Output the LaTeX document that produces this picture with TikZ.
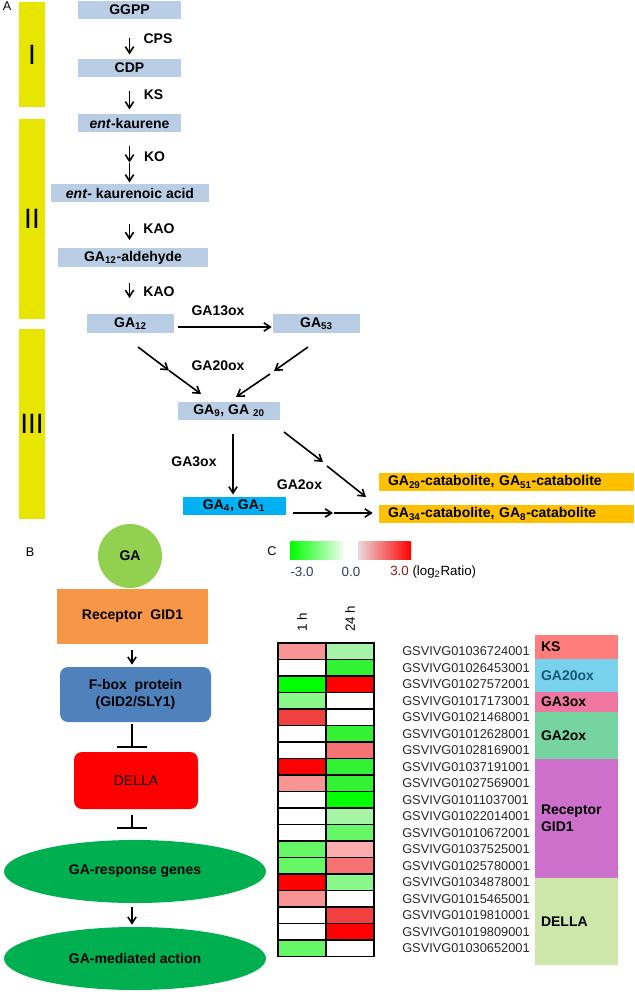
\documentclass[tikz,border=0pt]{standalone}
\usepackage{fontspec}
\setmainfont{Liberation Sans}
\usetikzlibrary{shapes.geometric,arrows.meta}

\newlength{\du}
\setlength{\du}{0.75pt}

\newcommand{\boldlbl}{\bfseries\fontsize{10.5}{12.6}\selectfont}
\newcommand{\plainlbl}{\fontsize{10}{12}\selectfont}

\definecolor{stepblue}{rgb}{0.725490, 0.803922, 0.894118}
\definecolor{phaseyellow}{rgb}{0.901961, 0.901961, 0.000000}
\definecolor{activecyan}{rgb}{0.000000, 0.690196, 0.941176}
\definecolor{cataorange}{rgb}{1.000000, 0.752941, 0.000000}
\definecolor{gagreen}{rgb}{0.572549, 0.815686, 0.313725}
\definecolor{recorange}{rgb}{0.968627, 0.588235, 0.274510}
\definecolor{fboxblue}{rgb}{0.309804, 0.505882, 0.741176}
\definecolor{dellared}{rgb}{1.000000, 0.000000, 0.000000}
\definecolor{respgreen}{rgb}{0.000000, 0.690196, 0.313725}
\definecolor{hredfull}{rgb}{1.000000, 0.000000, 0.000000}
\definecolor{hred2}{rgb}{0.941176, 0.250000, 0.250000}
\definecolor{hred3}{rgb}{0.960784, 0.450000, 0.450000}
\definecolor{hred4}{rgb}{0.972549, 0.580000, 0.580000}
\definecolor{hred5}{rgb}{0.980392, 0.680000, 0.680000}
\definecolor{hgreenfull}{rgb}{0.000000, 1.000000, 0.000000}
\definecolor{hgreen2}{rgb}{0.200000, 0.950000, 0.200000}
\definecolor{hgreen3}{rgb}{0.400000, 0.970000, 0.400000}
\definecolor{hgreen4}{rgb}{0.540000, 0.970000, 0.540000}
\definecolor{hgreen5}{rgb}{0.650000, 0.960000, 0.650000}
\definecolor{scalegreenmid}{rgb}{0.450000, 0.980000, 0.450000}
\definecolor{scalegreenend}{rgb}{0.930000, 0.990000, 0.930000}
\definecolor{scaleredstart}{rgb}{0.920000, 0.850000, 0.850000}
\definecolor{geneink}{rgb}{0.150000, 0.150000, 0.150000}
\definecolor{negink}{rgb}{0.180000, 0.220000, 0.350000}
\definecolor{posink}{rgb}{0.550000, 0.100000, 0.100000}
\definecolor{famks}{rgb}{1.000000, 0.490196, 0.490196}
\definecolor{famgatwenty}{rgb}{0.470588, 0.823529, 0.921569}
\definecolor{famgathree}{rgb}{0.941176, 0.470588, 0.627451}
\definecolor{famgatwo}{rgb}{0.462745, 0.831373, 0.627451}
\definecolor{famreceptor}{rgb}{0.800000, 0.439216, 0.800000}
\definecolor{famdella}{rgb}{0.803922, 0.901961, 0.666667}
\definecolor{tealink}{rgb}{0.100000, 0.350000, 0.470000}

\tikzset{
  stepbox/.style={rectangle, fill=stepblue, minimum height=18.5\du, inner sep=0pt, font=\boldlbl},
  steplabel/.style={inner sep=0pt, font=\boldlbl},
  phasebar/.style={rectangle, fill=phaseyellow, minimum width=26\du, inner sep=0pt, font=\fontsize{21}{24}\selectfont},
  catabox/.style={rectangle, fill=cataorange, minimum height=18.5\du, text width=237\du, inner xsep=9\du, inner ysep=0pt, align=left, font=\boldlbl},
  arr/.style={-{Straight Barb[length=4.8pt, width=6.2pt]}, line width=1.2pt},
  inhib/.style={-{Bar[width=23.2pt]}, line width=1.1pt},
  pathbox/.style={rectangle, minimum width=151\du, minimum height=55\du, inner sep=0pt, align=center, font=\boldlbl},
  respoval/.style={ellipse, fill=respgreen, minimum width=262\du, minimum height=63\du, inner sep=0pt, font=\boldlbl},
  hcell/.style={rectangle, draw=black, line width=1.2pt, minimum width=48\du, minimum height=16.5\du, inner sep=0pt},
  geneid/.style={anchor=west, inner sep=0pt, text=geneink, font=\fontsize{9.6}{11}\selectfont},
  famlabel/.style={rectangle, minimum width=83\du, text width=71\du, inner xsep=6\du, inner ysep=0pt, align=left, font=\boldlbl},
  panel/.style={inner sep=0pt, font=\fontsize{9.5}{11}\selectfont}
}

\begin{document}
\begin{tikzpicture}[x=\du, y=-\du]
\useasboundingbox (0,0) rectangle (635,992);

% panel A
\node[panel] (pa) at (7,6) {A};
\node[phasebar, minimum height=105\du] (phase1) at (32,54.5) {I};
\node[phasebar, minimum height=200\du] (phase2) at (32,219) {II};
\node[phasebar, minimum height=190\du] (phase3) at (32,424) {III};

\node[stepbox, minimum width=103\du] (ggpp) at (129.5,10) {GGPP};
\node[stepbox, minimum width=103\du] (cdp) at (129.5,68) {CDP};
\node[stepbox, minimum width=103\du] (ekaurene) at (129.5,123) {\textit{ent}-kaurene};
\node[stepbox, minimum width=158\du] (eacid) at (130,193) {\textit{ent}- kaurenoic acid};
\node[stepbox, minimum width=150\du] (aldehyde) at (133,257.5) {GA\textsubscript{12}-aldehyde};
\node[stepbox, minimum width=87\du] (ga12) at (130.5,323.5) {GA\textsubscript{12}};
\node[stepbox, minimum width=87\du] (ga53) at (316.5,323.5) {GA\textsubscript{53}};
\node[stepbox, minimum width=102\du] (ga9) at (229,411) {GA\textsubscript{9}, GA \textsubscript{20}};
\node[stepbox, fill=activecyan, minimum width=103\du] (ga4) at (234,506) {GA\textsubscript{4}, GA\textsubscript{1}};
\node[catabox] (cat29) at (506.5,482) {GA\textsubscript{29}-catabolite, GA\textsubscript{51}-catabolite};
\node[catabox] (cat34) at (506.5,514) {GA\textsubscript{34}-catabolite, GA\textsubscript{8}-catabolite};

\node[steplabel] (cps) at (158,39) {CPS};
\node[steplabel] (ks) at (153.5,95) {KS};
\node[steplabel] (ko) at (154.5,156.5) {KO};
\node[steplabel] (kao1) at (159,228.5) {KAO};
\node[steplabel] (kao2) at (159,291.5) {KAO};
\node[steplabel] (ga13ox) at (218,311) {GA13ox};
\node[steplabel] (ga20ox) at (218,366) {GA20ox};
\node[steplabel] (ga3ox) at (194,462) {GA3ox};
\node[steplabel] (ga2ox) at (299.5,485) {GA2ox};

\coordinate (komid) at (129.5,162.5);
\coordinate (l0) at (138,347);
\coordinate (l1) at (169,370.5);
\coordinate (l2) at (201,394);
\coordinate (r0) at (308,347);
\coordinate (r1) at (274,371);
\coordinate (r2) at (270,374);
\coordinate (r3) at (236,397);
\coordinate (d0) at (284,432);
\coordinate (d1) at (323,462);
\coordinate (d2) at (327,466);
\coordinate (d3) at (366,497);
\coordinate (bmid) at (333,513);

\draw[arr, shorten <=18\du, shorten >=4\du] (ggpp) -- (cdp);
\draw[arr, shorten <=13\du, shorten >=4\du] (cdp) -- (ekaurene);
\draw[arr, shorten <=13\du] (ekaurene.south) -- (komid);
\draw[arr, shorten <=0.5\du, shorten >=1\du] (komid) -- (komid |- eacid.north);
\draw[arr, shorten <=21\du, shorten >=8\du] (eacid.south -| ggpp) -- (aldehyde.north -| ggpp);
\draw[arr, shorten <=16\du, shorten >=16\du] (aldehyde.south -| ggpp) -- (ga12.north -| ggpp);
\draw[arr, shorten <=4\du, shorten >=1\du] ([yshift=-3.5\du]ga12.east) -- ([yshift=-3.5\du]ga53.west);
\draw[arr] (l0) -- (l1);
\draw[arr] (l1) -- (l2);
\draw[arr] (r0) -- (r1);
\draw[arr] (r2) -- (r3);
\draw[arr, shorten <=13\du, shorten >=2\du] ([xshift=4\du]ga9.south) -- ([xshift=-1\du]ga4.north);
\draw[arr] (d0) -- (d1);
\draw[arr] (d2) -- (d3);
\draw[arr, shorten <=7\du] ([yshift=-7\du]ga4.east) -- (bmid);
\draw[arr, shorten <=1\du, shorten >=6\du] (bmid) -- (cat34.west |- bmid);

% panel B
\node[panel] (pb) at (30,552) {B};
\coordinate (spine) at (132,0);
\node[circle, fill=gagreen, minimum size=64\du, inner sep=0pt, font=\boldlbl] (ga) at (130,556) {GA};
\node[pathbox, fill=recorange] (gid1) at (132.5,616.5) {Receptor\ \ GID1};
\node[pathbox, fill=fboxblue, rounded corners=8\du] (fbox) at (135.5,694.5) {F-box\ \ protein\\(GID2/SLY1)};
\node[pathbox, fill=dellared, rounded corners=8\du, minimum width=124\du, minimum height=57\du, font=\fontsize{10.5}{12.6}\selectfont] (della) at (136,780.5) {DELLA};
\node[respoval] (genes) at (135,871.5) {GA-response genes};
\node[respoval] (action) at (135,958.5) {GA-mediated action};

\draw[arr, shorten <=6\du, shorten >=2\du] (gid1.south -| spine) -- (fbox.north -| spine);
\draw[inhib, shorten <=2\du, shorten >=4\du] (fbox.south -| spine) -- (della.north -| spine);
\draw[inhib, shorten <=6\du, shorten >=11\du] (della.south -| spine) -- (genes.north -| spine);
\draw[arr, shorten <=4\du, shorten >=2\du] (genes.south -| spine) -- (action.north -| spine);

% panel C
\node[panel] (pc) at (272,551) {C};
\node[rectangle, minimum width=53\du, minimum height=18\du, left color=hgreenfull, middle color=scalegreenmid, right color=scalegreenend] (scaleneg) at (316.5,550) {};
\node[rectangle, minimum width=53\du, minimum height=18\du, left color=scaleredstart, right color=hredfull] (scalepos) at (384.5,550) {};
\node[inner sep=0pt, text=negink, font=\plainlbl] (lneg) at (302,572) {-3.0};
\node[inner sep=0pt, text=negink, font=\plainlbl] (lzero) at (351,572) {0.0};
\node[inner sep=0pt, anchor=west, font=\plainlbl] (lpos) at (390,572) {\textcolor{posink}{3.0} (log\textsubscript{2}Ratio)};

\node[inner sep=0pt, rotate=90, anchor=west, font=\plainlbl] (t1h) at (302,632) {1 h};
\node[inner sep=0pt, rotate=90, anchor=west, font=\plainlbl] (t24h) at (350,632) {24 h};

\node[famlabel, fill=famks, minimum height=24\du] (fks) at (576.5,647) {KS};
\node[famlabel, fill=famgatwenty, minimum height=33\du, text=tealink] (fga20) at (576.5,675.5) {GA20ox};
\node[famlabel, fill=famgathree, minimum height=20\du] (fga3) at (576.5,702) {GA3ox};
\node[famlabel, fill=famgatwo, minimum height=47\du] (fga2) at (576.5,735.5) {GA2ox};
\node[famlabel, fill=famreceptor, minimum height=119\du] (frec) at (576.5,818.5) {Receptor\\GID1};
\node[famlabel, fill=famdella, minimum height=87\du] (fdella) at (576.5,921.5) {DELLA};

\node[hcell, fill=hred4] (h1a) at (302,651.25) {}; \node[hcell, fill=hgreen5] (h1b) at (350,651.25) {}; \node[geneid] (g1) at (402,651.25) {GSVIVG01036724001};
\node[hcell, fill=white] (h2a) at (302,667.75) {}; \node[hcell, fill=hgreen2] (h2b) at (350,667.75) {}; \node[geneid] (g2) at (402,667.75) {GSVIVG01026453001};
\node[hcell, fill=hgreenfull] (h3a) at (302,684.25) {}; \node[hcell, fill=hredfull] (h3b) at (350,684.25) {}; \node[geneid] (g3) at (402,684.25) {GSVIVG01027572001};
\node[hcell, fill=hgreen4] (h4a) at (302,700.75) {}; \node[hcell, fill=white] (h4b) at (350,700.75) {}; \node[geneid] (g4) at (402,700.75) {GSVIVG01017173001};
\node[hcell, fill=hred2] (h5a) at (302,717.25) {}; \node[hcell, fill=white] (h5b) at (350,717.25) {}; \node[geneid] (g5) at (402,717.25) {GSVIVG01021468001};
\node[hcell, fill=white] (h6a) at (302,733.75) {}; \node[hcell, fill=hgreen2] (h6b) at (350,733.75) {}; \node[geneid] (g6) at (402,733.75) {GSVIVG01012628001};
\node[hcell, fill=white] (h7a) at (302,750.25) {}; \node[hcell, fill=hred3] (h7b) at (350,750.25) {}; \node[geneid] (g7) at (402,750.25) {GSVIVG01028169001};
\node[hcell, fill=hredfull] (h8a) at (302,766.75) {}; \node[hcell, fill=hgreen2] (h8b) at (350,766.75) {}; \node[geneid] (g8) at (402,766.75) {GSVIVG01037191001};
\node[hcell, fill=hred4] (h9a) at (302,783.25) {}; \node[hcell, fill=hgreen2] (h9b) at (350,783.25) {}; \node[geneid] (g9) at (402,783.25) {GSVIVG01027569001};
\node[hcell, fill=white] (h10a) at (302,799.75) {}; \node[hcell, fill=hgreenfull] (h10b) at (350,799.75) {}; \node[geneid] (g10) at (402,799.75) {GSVIVG01011037001};
\node[hcell, fill=white] (h11a) at (302,816.25) {}; \node[hcell, fill=hgreen5] (h11b) at (350,816.25) {}; \node[geneid] (g11) at (402,816.25) {GSVIVG01022014001};
\node[hcell, fill=white] (h12a) at (302,832.75) {}; \node[hcell, fill=hgreen3] (h12b) at (350,832.75) {}; \node[geneid] (g12) at (402,832.75) {GSVIVG01010672001};
\node[hcell, fill=hgreen3] (h13a) at (302,849.25) {}; \node[hcell, fill=hred5] (h13b) at (350,849.25) {}; \node[geneid] (g13) at (402,849.25) {GSVIVG01037525001};
\node[hcell, fill=hgreen3] (h14a) at (302,865.75) {}; \node[hcell, fill=hred3] (h14b) at (350,865.75) {}; \node[geneid] (g14) at (402,865.75) {GSVIVG01025780001};
\node[hcell, fill=hredfull] (h15a) at (302,882.25) {}; \node[hcell, fill=hgreen4] (h15b) at (350,882.25) {}; \node[geneid] (g15) at (402,882.25) {GSVIVG01034878001};
\node[hcell, fill=hred4] (h16a) at (302,898.75) {}; \node[hcell, fill=white] (h16b) at (350,898.75) {}; \node[geneid] (g16) at (402,898.75) {GSVIVG01015465001};
\node[hcell, fill=white] (h17a) at (302,915.25) {}; \node[hcell, fill=hred2] (h17b) at (350,915.25) {}; \node[geneid] (g17) at (402,915.25) {GSVIVG01019810001};
\node[hcell, fill=white] (h18a) at (302,931.75) {}; \node[hcell, fill=hredfull] (h18b) at (350,931.75) {}; \node[geneid] (g18) at (402,931.75) {GSVIVG01019809001};
\node[hcell, fill=hgreen3] (h19a) at (302,948.25) {}; \node[hcell, fill=white] (h19b) at (350,948.25) {}; \node[geneid] (g19) at (402,948.25) {GSVIVG01030652001};
\end{tikzpicture}
\end{document}
